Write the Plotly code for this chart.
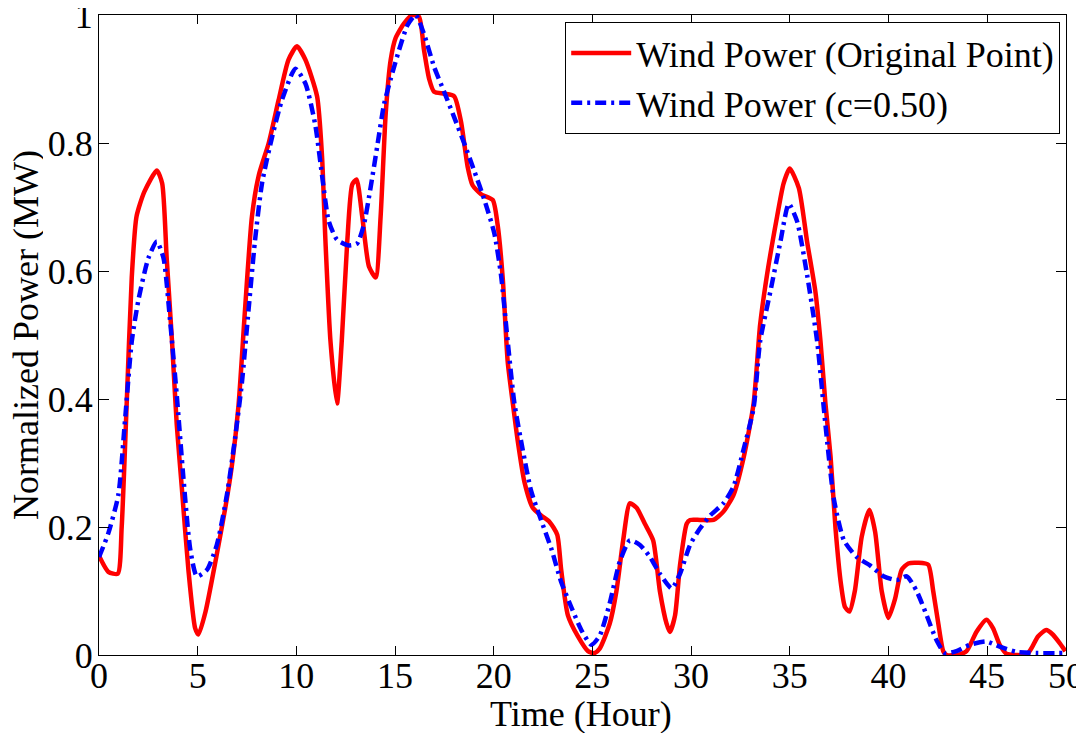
import plotly.graph_objects as go

# Original wind power (red), sampled along the curve
red_h = [0, 0.47, 0.95, 1.15, 1.4, 1.66, 1.9, 2.3, 2.93, 3.2, 3.43, 3.7, 3.94, 4.2, 4.53, 4.87, 5.04,
         5.4, 5.9, 6.4, 6.73, 7.07, 7.4, 7.75, 8.1, 8.6, 9.1, 9.6, 10.03, 10.46, 11.05, 11.3, 11.47,
         11.73, 12.06, 12.3, 12.58, 12.83, 13.05, 13.34, 13.68, 14.02, 14.27, 14.53, 14.78, 15.03,
         15.46, 15.88, 16.22, 16.47, 16.73, 16.98, 17.49, 18.0, 18.34, 18.68, 18.93, 19.36, 19.95,
         20.2, 20.46, 20.71, 20.97, 21.22, 21.56, 21.98, 22.4, 22.83, 23.22, 23.42, 23.76, 24.27,
         24.78, 25.1, 25.37, 25.88, 26.22, 26.56, 26.9, 27.24, 27.66, 28.08, 28.42, 28.76, 28.93,
         29.19, 29.44, 29.78, 29.95, 30.46, 31.14, 31.64, 32.15, 32.66, 33.17, 33.5, 33.85, 34.36,
         34.69, 35.0, 35.46, 35.88, 36.3, 36.56, 36.81, 37.07, 37.32, 37.6, 37.8, 38.03, 38.3, 38.65,
         39.04, 39.33, 39.66, 40.0, 40.34, 40.67, 41.01, 41.52, 42.02, 42.27, 42.53, 42.78, 42.95,
         43.45, 43.96, 44.46, 44.97, 45.3, 45.64, 45.98, 46.48, 46.99, 47.24, 47.58, 48.0, 48.33,
         48.67, 48.97]
red_v = [0.155, 0.13, 0.127, 0.2, 0.39, 0.59, 0.685, 0.724, 0.757, 0.737, 0.62, 0.49, 0.36, 0.26,
         0.133, 0.042, 0.032, 0.068, 0.146, 0.23, 0.295, 0.39, 0.54, 0.685, 0.75, 0.80, 0.867, 0.93,
         0.951, 0.93, 0.873, 0.78, 0.65, 0.49, 0.393, 0.49, 0.646, 0.735, 0.743, 0.685, 0.607, 0.59,
         0.685, 0.847, 0.93, 0.964, 0.987, 1.0, 0.997, 0.945, 0.9, 0.88, 0.877, 0.873, 0.834, 0.763,
         0.734, 0.72, 0.711, 0.672, 0.588, 0.458, 0.393, 0.334, 0.27, 0.23, 0.218, 0.208, 0.188,
         0.133, 0.062, 0.029, 0.006, 0.003, 0.01, 0.049, 0.1, 0.179, 0.237, 0.23, 0.205, 0.179, 0.1,
         0.049, 0.036, 0.062, 0.14, 0.205, 0.211, 0.211, 0.211, 0.224, 0.25, 0.308, 0.393, 0.516,
         0.594, 0.685, 0.737, 0.76, 0.73, 0.646, 0.568, 0.49, 0.393, 0.31, 0.198, 0.11, 0.075, 0.068,
         0.1, 0.185, 0.227, 0.192, 0.1, 0.058, 0.088, 0.133, 0.143, 0.144, 0.141, 0.1, 0.049, 0.006,
         0.0, 0.0, 0.006, 0.036, 0.055, 0.042, 0.016, 0.002, 0.0, 0.0, 0.01, 0.029, 0.039, 0.032,
         0.019, 0.006]

# Smoothed wind power, c = 0.50 (blue)
blue_h = [0, 0.47, 0.98, 1.3, 1.66, 2.0, 2.5, 2.93, 3.27, 3.6, 3.94, 4.28, 4.62, 4.96, 5.47, 5.97,
          6.48, 6.9, 7.24, 7.58, 7.9, 8.26, 8.76, 9.27, 9.95, 10.46, 10.96, 11.3, 11.64, 12.06, 12.66,
          13.08, 13.42, 13.76, 14.1, 14.44, 14.78, 15.2, 15.63, 16.05, 16.47, 16.98, 17.49, 18.0,
          18.5, 19.02, 19.53, 20.03, 20.37, 20.71, 21.05, 21.47, 21.9, 22.4, 22.92, 23.42, 23.93,
          24.44, 24.95, 25.37, 25.88, 26.39, 26.9, 27.41, 27.92, 28.42, 29.02, 29.44, 29.95, 30.46,
          30.97, 31.64, 32.15, 32.66, 33.17, 33.5, 34.02, 34.53, 34.95, 35.37, 35.88, 36.39, 36.81,
          37.24, 37.75, 38.4, 39.07, 39.75, 40.42, 40.93, 41.43, 41.94, 42.44, 42.86, 43.45, 44.13,
          44.97, 45.64, 46.48, 47.5, 48.97]
blue_v = [0.153, 0.19, 0.25, 0.36, 0.49, 0.555, 0.62, 0.646, 0.62, 0.523, 0.406, 0.276, 0.166,
          0.123, 0.133, 0.172, 0.25, 0.34, 0.425, 0.54, 0.646, 0.737, 0.808, 0.867, 0.916, 0.893,
          0.828, 0.75, 0.678, 0.649, 0.64, 0.643, 0.672, 0.73, 0.795, 0.86, 0.9, 0.945, 0.984, 1.0,
          0.97, 0.919, 0.88, 0.84, 0.80, 0.756, 0.711, 0.659, 0.594, 0.49, 0.393, 0.321, 0.256,
          0.211, 0.166, 0.114, 0.075, 0.039, 0.016, 0.03, 0.081, 0.146, 0.179, 0.172, 0.153, 0.127,
          0.104, 0.127, 0.172, 0.198, 0.218, 0.237, 0.263, 0.321, 0.386, 0.49, 0.568, 0.646, 0.705,
          0.678, 0.594, 0.49, 0.36, 0.243, 0.179, 0.153, 0.14, 0.123, 0.117, 0.123, 0.1, 0.062,
          0.023, 0.003, 0.006, 0.016, 0.021, 0.013, 0.005, 0.003, 0.003]

x_tickvals = [0, 5, 10, 15, 20, 25, 30, 35, 40, 45, 49]
x_ticktext = ["0", "5", "10", "15", "20", "25", "30", "35", "40", "45", "50"]
y_tickvals = [0, 0.2, 0.4, 0.6, 0.8, 1.0]
y_ticktext = ["0", "0.2", "0.4", "0.6", "0.8", "1"]

FONT = "'Liberation Serif', 'Times New Roman', Times, serif"

fig = go.Figure()
fig.add_trace(go.Scatter(x=red_h, y=red_v, mode="lines", name="Wind Power (Original Point)",
                         line=dict(color="#ff0000", width=4.5, shape="spline", smoothing=0.6)))
fig.add_trace(go.Scatter(x=blue_h, y=blue_v, mode="lines", name="Wind Power (c=0.50)",
                         line=dict(color="#0000ff", width=4.5, dash="11px,5px,3px,5px",
                                   shape="spline", smoothing=0.6)))

axis_common = dict(showline=True, linecolor="black", linewidth=1, mirror="ticks",
                   ticks="inside", tickcolor="black", showgrid=False, zeroline=False,
                   ticklabeloverflow="allow", automargin=False,
                   tickfont=dict(family=FONT, size=36, color="black"))

# The page body has an 8px default margin, so the figure is 8px smaller and margins shifted.
fig.update_layout(
    width=1076, height=726,
    margin=dict(l=91, r=18, t=7, b=79),
    paper_bgcolor="white", plot_bgcolor="white",
    font=dict(family=FONT, size=36, color="black"),
    xaxis=dict(range=[0, 49], tickvals=x_tickvals, ticktext=x_ticktext, ticklen=9,
               ticklabelstandoff=-11, **axis_common),
    yaxis=dict(range=[0, 1], tickvals=y_tickvals, ticktext=y_ticktext, ticklen=10,
               ticklabelstandoff=-2, **axis_common),
    legend=dict(x=0.994, y=0.989, xanchor="right", yanchor="top",
                bgcolor="white", bordercolor="black", borderwidth=1,
                font=dict(family=FONT, size=36, color="black"), itemwidth=60,
                tracegroupgap=0),
    showlegend=True,
    annotations=[
        dict(text="Time (Hour)", xref="paper", yref="paper", x=0.498, y=-0.092,
             xanchor="center", yanchor="middle", showarrow=False, height=38,
             font=dict(family=FONT, size=36, color="black")),
        dict(text="Normalized Power (MW)", xref="paper", yref="paper", x=-0.0755, y=0.5,
             xanchor="center", yanchor="middle", textangle=-90, showarrow=False, height=34,
             font=dict(family=FONT, size=36, color="black")),
    ],
)

fig.write_html("out.html")
